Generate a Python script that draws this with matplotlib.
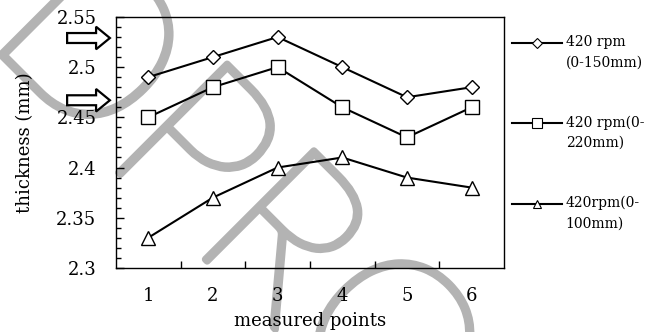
import matplotlib.pyplot as plt
import matplotlib.patheffects as pe
from matplotlib.lines import Line2D
from matplotlib.patches import FancyArrow
from matplotlib.ticker import MultipleLocator, FixedLocator

# --- data ---
points = [1, 2, 3, 4, 5, 6]
thick_150 = [2.49, 2.51, 2.53, 2.50, 2.47, 2.48]
thick_220 = [2.45, 2.48, 2.50, 2.46, 2.43, 2.46]
thick_100 = [2.33, 2.37, 2.40, 2.41, 2.39, 2.38]
labels = ['420 rpm\n(0-150mm)', '420 rpm(0-\n220mm)', '420rpm(0-\n100mm)']
arrow_levels = [2.529, 2.467]

plt.rcParams['font.family'] = ['DejaVu Serif']

fig = plt.figure(figsize=(6.58, 3.32), dpi=100)
ax = fig.add_axes([0.176, 0.193, 0.590, 0.756])
ax.patch.set_visible(False)  # let the watermark behind show through

ax.plot(points, thick_150, color='black', lw=1.5, marker='D', ms=7,
        mfc='white', mec='black', mew=1.0)
ax.plot(points, thick_220, color='black', lw=1.5, marker='s', ms=10,
        mfc='white', mec='black', mew=1.0)
ax.plot(points, thick_100, color='black', lw=1.5, marker='^', ms=10,
        mfc='white', mec='black', mew=1.0)

# --- axes formatting ---
ax.set_xlim(0.5, 6.5)
ax.set_ylim(2.3, 2.55)
ax.set_xticks(points)
ax.xaxis.set_minor_locator(FixedLocator([1.5, 2.5, 3.5, 4.5, 5.5]))
ax.tick_params(axis='x', which='major', length=0, pad=14, labelsize=13)
ax.tick_params(axis='x', which='minor', direction='in', length=5, width=1)
ax.yaxis.set_major_locator(MultipleLocator(0.05))
ax.yaxis.set_minor_locator(MultipleLocator(0.01))
ax.set_yticks([2.3, 2.35, 2.4, 2.45, 2.5, 2.55])
ax.set_yticklabels(['2.3', '2.35', '2.4', '2.45', '2.5', '2.55'])
ax.tick_params(axis='y', which='major', direction='in', length=6, width=1,
               labelsize=13, pad=14)
ax.tick_params(axis='y', which='minor', direction='in', length=3.5, width=1)
for s in ax.spines.values():
    s.set_linewidth(1)
ax.set_xlabel('measured points', fontsize=13, labelpad=5)
ax.set_ylabel('thickness (mm)', fontsize=13, labelpad=16)

# --- legend on the right (blank first line puts the handle at line one) ---
handles = [
    Line2D([], [], color='black', lw=1.5, marker='D', ms=5, mfc='white', mec='black', mew=0.8),
    Line2D([], [], color='black', lw=1.5, marker='s', ms=7, mfc='white', mec='black', mew=0.8),
    Line2D([], [], color='black', lw=1.5, marker='^', ms=6, mfc='white', mec='black', mew=0.8),
]
leg = fig.legend(handles, ['\n' + l for l in labels], loc='upper left',
                 bbox_to_anchor=(0.768, 0.975), frameon=False, fontsize=10,
                 handlelength=3.6, handletextpad=0.25, labelspacing=1.86,
                 borderpad=0)
for t in leg.get_texts():
    t.set_linespacing(1.55)

# --- hollow arrows pointing at the axis ---
for lvl in arrow_levels:
    yf = ax.transData.transform((0.5, lvl))
    yf = fig.transFigure.inverted().transform(yf)[1]
    fig.add_artist(FancyArrow(0.102, yf, 0.065, 0, width=0.030, head_width=0.068,
                              head_length=0.021, length_includes_head=True,
                              fc='white', ec='black', lw=1.6,
                              transform=fig.transFigure))

# --- watermark, drawn underneath the chart ---
fig.text(0.355, 0.386, 'DPRO', fontsize=158, color='#b3b3b3', family='Lato',
         weight='light', rotation=-45, ha='center', va='center',
         rotation_mode='anchor', zorder=-1,
         path_effects=[pe.withStroke(linewidth=5, foreground='#b3b3b3')])

fig.savefig('out.png', dpi=100)
